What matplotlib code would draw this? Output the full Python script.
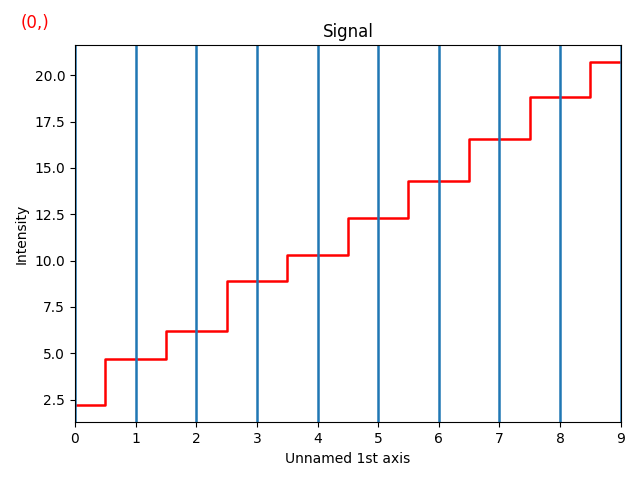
import matplotlib
matplotlib.use("Agg")
import matplotlib.pyplot as plt
import numpy as np

x = list(range(10))
intensity = [2.2, 4.7, 6.2, 8.9, 10.3, 12.3, 14.3, 16.55, 18.8, 20.7]
vlines = list(range(10))

fig, ax = plt.subplots(figsize=(6.4, 4.8), dpi=100)
ax.step(x, intensity, where="mid", color="red", lw=1.8)
for v in vlines:
    ax.axvline(v, color="tab:blue", lw=1.8)
ax.set_xlim(0, 9)
ax.set_title("Signal")
ax.set_xlabel("Unnamed 1st axis")
ax.set_ylabel("Intensity")
fig.subplots_adjust(left=0.117, right=0.970, top=0.906, bottom=0.12)
fig.text(0.033, 0.953, "(0,)", color="red", fontsize=12, ha="left", va="center")
fig.savefig("out.png")
